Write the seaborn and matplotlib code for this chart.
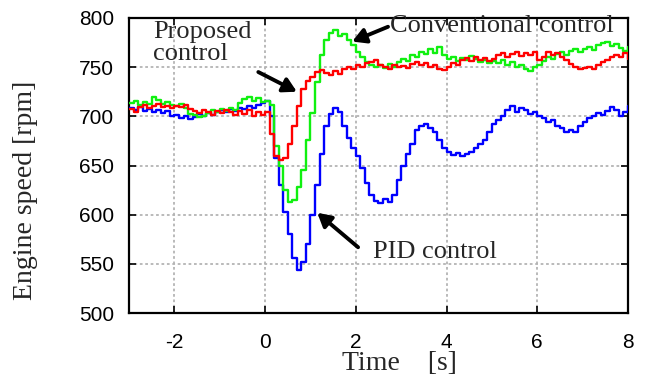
import numpy as np
import pandas as pd
import seaborn as sns
import matplotlib.pyplot as plt

# Engine speed response, sampled every 0.1 s from -3 s to 8 s
time_s = np.round(np.arange(-3.0, 8.0001, 0.1), 1)

pid_rpm = [
    708, 706, 709, 705, 707, 704, 706, 703, 705, 700,
    701, 698, 700, 697, 699, 702, 700, 703, 701, 704,
    706, 704, 707, 705, 708, 707, 710, 708, 712, 714,
    716, 700, 658, 630, 603, 580, 556, 544, 552, 570,
    600, 630, 662, 690, 702, 708, 704, 690, 678, 668,
    660, 648, 632, 620, 614, 612, 616, 613, 620, 635,
    650, 662, 672, 686, 690, 692, 688, 684, 676, 668,
    664, 661, 663, 660, 662, 664, 668, 672, 676, 684,
    692, 696, 700, 706, 710, 704, 708, 706, 702, 704,
    700, 698, 694, 696, 690, 688, 684, 686, 684, 690,
    694, 698, 700, 703, 701, 705, 709, 706, 700, 704,
    710,
]

conventional_rpm = [
    714, 716, 712, 715, 713, 720, 717, 713, 715, 712,
    710, 713, 708, 702, 701, 699, 700, 703, 706, 704,
    707, 705, 708, 706, 714, 718, 720, 716, 719, 715,
    716, 712, 670, 650, 625, 613, 615, 628, 645, 676,
    703, 735, 762, 778, 785, 788, 782, 784, 778, 772,
    765, 760, 755, 752, 750, 752, 749, 753, 750, 755,
    758, 756, 762, 760, 765, 763, 768, 764, 770, 762,
    758, 760, 756, 759, 757, 761, 758, 755, 757, 754,
    756, 754, 757, 752, 755, 750, 752, 748, 746, 750,
    752, 756, 760, 758, 763, 765, 762, 766, 768, 765,
    768, 770, 767, 772, 774, 776, 771, 773, 769, 766,
    770,
]

proposed_rpm = [
    707, 704, 709, 712, 708, 711, 713, 709, 710, 708,
    711, 709, 712, 707, 705, 703, 706, 704, 701, 705,
    703, 706, 704, 701, 705, 702, 706, 700, 704, 701,
    704, 682, 660, 656, 658, 672, 690, 710, 728, 736,
    740, 745, 747, 744, 742, 746, 743, 748, 750, 748,
    752, 750, 754, 755, 757, 752, 750, 748, 752, 750,
    751, 749, 753, 755, 752, 754, 750, 752, 748, 747,
    750, 754, 752, 757, 759, 756, 760, 757, 759, 756,
    758, 762, 764, 760, 763, 765, 761, 764, 762, 765,
    757, 760, 765, 762, 764, 760, 757, 753, 750, 748,
    749, 750, 748, 752, 755, 757, 760, 762, 760, 764,
    758,
]

x_ticks = [-2, 0, 2, 4, 6, 8]
y_ticks = [500, 550, 600, 650, 700, 750, 800]

series = {
    "PID control": (pid_rpm, "#0000ff"),
    "Conventional control": (conventional_rpm, "#10f010"),
    "Proposed control": (proposed_rpm, "#ff0000"),
}

df = pd.concat(
    [pd.DataFrame({"time": time_s, "rpm": vals, "method": name})
     for name, (vals, _) in series.items()],
    ignore_index=True,
)

sns.set_style("ticks")
plt.rcParams["font.family"] = ["Liberation Sans", "DejaVu Sans"]
plt.rcParams["axes.unicode_minus"] = False

fig, ax = plt.subplots(figsize=(6.52, 3.81), dpi=100)
fig.subplots_adjust(left=0.198, right=0.963, top=0.953, bottom=0.178)

for name, (_, color) in series.items():
    sns.lineplot(data=df[df["method"] == name], x="time", y="rpm", ax=ax,
                 color=color, lw=1.7, drawstyle="steps-post", legend=False,
                 zorder=3)

ax.set_xlim(-3, 8)
ax.set_ylim(500, 800)
ax.set_xticks(x_ticks)
ax.set_yticks(y_ticks)
ax.tick_params(direction="in", length=5, width=1.2, top=True, right=True,
               labelsize=15, colors="black")
ax.tick_params(axis="x", pad=14)
ax.tick_params(axis="y", pad=11)
for sp in ax.spines.values():
    sp.set_linewidth(1.6)
    sp.set_color("black")
ax.grid(True, color="#b4b4b4", linestyle=(0, (1.5, 1.5)), linewidth=1.3)
ax.set_xlabel("")
ax.set_ylabel("")

serif = ["Liberation Serif", "DejaVu Serif"]
fig.text(399 / 652, 1 - 364 / 381, "Time    [s]", fontsize=20, family=serif,
         ha="center", va="center")
fig.text(26 / 652, 1 - 190 / 381, "Engine speed [rpm]", fontsize=20,
         family=serif, ha="center", va="center", rotation=90)

arrow = dict(arrowstyle="-|>,head_length=0.8,head_width=0.45", lw=2.8,
             color="black", shrinkA=0, shrinkB=0)

ax.text(-2.47, 797, "Proposed\ncontrol", fontsize=19, family=serif,
        ha="left", va="top", linespacing=1.0)
ax.annotate("", xy=(0.70, 725), xytext=(-0.15, 745), arrowprops=arrow)

ax.text(2.75, 792, "Conventional control", fontsize=19, family=serif,
        ha="left", va="center")
ax.annotate("", xy=(1.92, 776), xytext=(2.71, 791), arrowprops=arrow)

ax.text(2.38, 562, "PID control", fontsize=19, family=serif,
        ha="left", va="center")
ax.annotate("", xy=(1.15, 602), xytext=(2.05, 567), arrowprops=arrow)

fig.savefig("out.png", dpi=100)
